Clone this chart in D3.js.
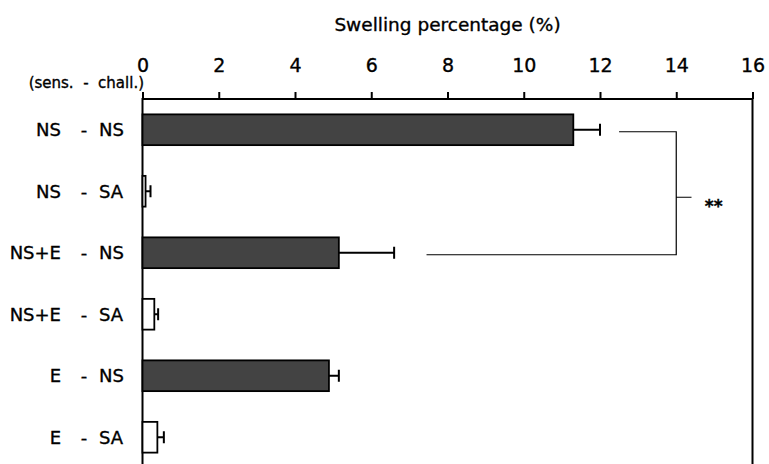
<!DOCTYPE html>
<html>
<head>
<meta charset="utf-8">
<script src="https://cdn.jsdelivr.net/npm/d3@7"></script>
<style>
  body { margin: 0; background: #fff; }
  text { font-family: "DejaVu Sans", sans-serif; fill: #000; stroke: #000; stroke-width: 0.35px; white-space: pre; }
</style>
</head>
<body>
<svg id="chart" width="769" height="464"></svg>
<script>
// groups: sensitization - challenge
const sens = ['NS', 'NS', 'NS+E', 'NS+E', 'E', 'E'];
const chall = ['NS', 'SA', 'NS', 'SA', 'NS', 'SA'];
const swelling = [11.3, 0.08, 5.15, 0.31, 4.89, 0.39];
const sem = [0.7, 0.13, 1.45, 0.1, 0.26, 0.17];
const xTicks = [0, 2, 4, 6, 8, 10, 12, 14, 16];
// significance bracket between group 0 and group 2
const sigPair = [0, 2];
const sigLabel = '**';

const svg = d3.select('#chart'),
  plotLeft = 142.5, plotRight = 752.5, plotTop = 99, plotBottom = 468;

const x = d3.scaleLinear().domain([0, 16]).range([plotLeft, plotRight]);
const ids = d3.range(swelling.length);
const y = d3.scaleBand().domain(ids).range([plotTop, plotBottom])
  .paddingInner(0.5).paddingOuter(0.25);

// frame
svg.append('rect')
  .attr('x', plotLeft).attr('y', plotTop)
  .attr('width', plotRight - plotLeft).attr('height', 400)
  .attr('fill', 'none').attr('stroke', '#000').attr('stroke-width', 2);

// top axis
const axis = svg.append('g')
  .attr('transform', 'translate(0,' + plotTop + ')')
  .call(d3.axisTop(x).tickValues(xTicks).tickSize(7).tickPadding(20).tickFormat(d3.format('d')));
axis.select('.domain').remove();
axis.selectAll('line').attr('stroke-width', 2);
axis.selectAll('text')
  .style('font-size', '19px')
  .style('font-family', '"DejaVu Sans", sans-serif')
  .attr('dy', 0);

svg.append('text')
  .attr('x', (plotLeft + plotRight) / 2).attr('y', 31)
  .attr('text-anchor', 'middle')
  .style('font-size', '18.5px')
  .text('Swelling percentage (%)');

svg.append('text')
  .attr('x', 144).attr('y', 88)
  .attr('text-anchor', 'end')
  .style('font-size', '15px')
  .text('(sens.  -  chall.)');

// bars
const row = svg.selectAll('.row')
  .data(ids)
  .enter()
  .append('g')
  .attr('class', 'row');

row.append('path')
  .attr('d', function(i) {
    const cy = y(i) + y.bandwidth() / 2;
    return 'M' + x(swelling[i]) + ',' + cy + 'H' + x(swelling[i] + sem[i]) +
      'M' + x(swelling[i] + sem[i]) + ',' + (cy - 6) + 'V' + (cy + 6);
  })
  .attr('stroke', '#000').attr('stroke-width', 2).attr('fill', 'none');

row.append('rect')
  .attr('x', x(0))
  .attr('y', function(i) { return y(i); })
  .attr('width', function(i) { return x(swelling[i]) - x(0); })
  .attr('height', y.bandwidth())
  .attr('fill', function(i) { return chall[i] === 'NS' ? '#434343' : '#fff'; })
  .attr('stroke', '#000').attr('stroke-width', 1.8);

// category labels
row.append('text')
  .attr('x', 61)
  .attr('y', function(i) { return y(i) + y.bandwidth() / 2; })
  .attr('dy', '0.36em')
  .attr('text-anchor', 'end')
  .style('font-size', '18px')
  .text(function(i) { return sens[i]; });
row.append('text')
  .attr('x', 84)
  .attr('y', function(i) { return y(i) + y.bandwidth() / 2; })
  .attr('dy', '0.36em')
  .attr('text-anchor', 'middle')
  .style('font-size', '18px')
  .text('-');
row.append('text')
  .attr('x', 99)
  .attr('y', function(i) { return y(i) + y.bandwidth() / 2; })
  .attr('dy', '0.36em')
  .style('font-size', '18px')
  .text(function(i) { return chall[i]; });

// significance bracket
const a = sigPair[0], b = sigPair[1];
const ya = y(a) + y.bandwidth() / 2 + 2, yb = y(b) + y.bandwidth() / 2 + 2;
const bx = x(14.0);
const ym = (ya + yb) / 2 + 4;
svg.append('path')
  .attr('d', 'M' + x(swelling[a] + sem[a] + 0.5) + ',' + ya + 'H' + bx + 'V' + yb +
    'H' + x(swelling[b] + sem[b] + 0.85) + 'M' + bx + ',' + ym + 'H' + x(14.4))
  .attr('stroke', '#000').attr('stroke-width', 1.2).attr('fill', 'none');
svg.append('text')
  .attr('x', x(14.75)).attr('y', ym + 15)
  .style('font-size', '17px')
  .style('font-weight', 'bold')
  .text(sigLabel);
</script>
</body>
</html>
